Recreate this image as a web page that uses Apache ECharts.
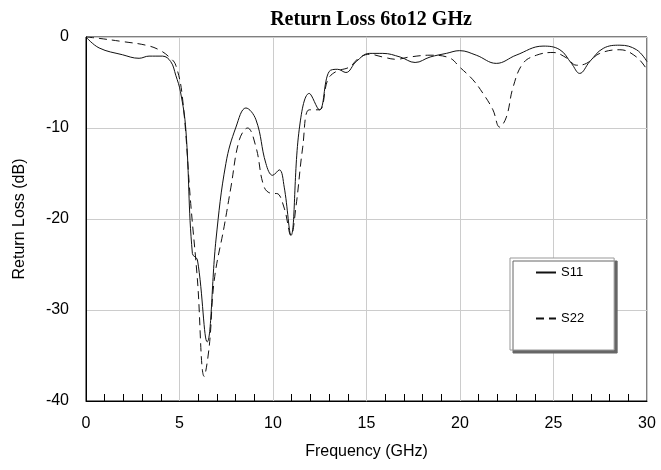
<!DOCTYPE html>
<html>
<head>
<meta charset="utf-8">
<script src="https://cdn.jsdelivr.net/npm/echarts@6/dist/echarts.min.js"></script>
<style>
  html, body { margin: 0; padding: 0; background: #fff; }
  #chart { width: 661px; height: 470px; }
</style>
</head>
<body>
<div id="chart"></div>
<script>
  // frequency in GHz, return loss in dB
  const s11Freq = [0, 0.7, 1.95, 2.84, 3.37, 4.09, 4.53, 4.8, 5.05, 5.34, 5.69, 5.96, 6.48, 6.95, 7.48, 8.02, 8.55, 9.09, 9.62, 9.98, 10.34, 10.6, 10.96, 11.4, 11.94, 12.48, 13.0, 13.46, 13.9, 14.45, 15.16, 15.87, 16.8, 17.6, 18.4, 19.27, 19.98, 20.87, 21.94, 23.0, 24.44, 25.34, 25.96, 26.4, 26.94, 27.66, 28.55, 29.44, 30];
  const s11Loss = [0, -1.2, -1.95, -2.34, -2.1, -2.1, -2.7, -4.2, -6.0, -10.2, -23.8, -24.5, -33.5, -22.3, -13.9, -9.9, -7.8, -9.1, -13.9, -15.2, -14.6, -16.5, -21.8, -10.2, -6.2, -8.0, -3.8, -3.55, -3.9, -2.7, -1.8, -1.8, -2.2, -2.8, -2.2, -1.8, -1.5, -2.0, -2.9, -2.0, -1.0, -1.4, -2.9, -4.0, -2.7, -1.25, -0.9, -1.4, -2.7];

  const s22Freq = [0, 0.7, 1.95, 3.2, 3.9, 4.45, 4.8, 5.16, 5.6, 5.96, 6.32, 6.59, 6.86, 7.39, 7.75, 8.2, 8.64, 9.09, 9.53, 9.98, 10.2, 10.6, 10.96, 11.23, 11.59, 11.94, 12.48, 12.93, 13.37, 14.09, 14.6, 15.16, 15.87, 16.6, 17.3, 18.4, 19.44, 19.98, 20.69, 21.23, 21.76, 22.12, 22.48, 22.84, 23.37, 24.09, 24.98, 25.7, 26.23, 26.76, 27.48, 28.55, 29.44, 30];
  const s22Loss = [0, -0.15, -0.5, -0.9, -1.4, -2.2, -3.1, -6.7, -18.3, -26.7, -37.3, -34, -26.7, -20.8, -16.5, -11.3, -10.0, -12.1, -16.5, -17.2, -17.2, -18.8, -21.8, -18.6, -12.1, -8.0, -8.0, -4.7, -3.8, -3.3, -2.3, -1.9, -2.2, -2.45, -2.2, -2.0, -2.3, -3.3, -4.7, -6.2, -8.0, -9.9, -8.8, -5.5, -2.9, -2.0, -1.7, -2.3, -3.1, -2.9, -1.8, -1.4, -2.2, -3.6];

  const pairs = (xs, ys) => xs.map((x, i) => [x, ys[i]]);

  let chart = echarts.init(document.getElementById('chart'));
  let option = {
    backgroundColor: '#fff',
    animation: false,
    title: {
      text: 'Return Loss 6to12 GHz',
      left: 366,
      textAlign: 'center',
      top: 5,
      textStyle: {
        fontFamily: 'Liberation Serif',
        fontWeight: 'bold',
        fontSize: 20,
        color: '#000'
      }
    },
    grid: {
      left: 86,
      right: 14,
      top: 37,
      bottom: 69,
      show: true,
      borderColor: '#000',
      borderWidth: 1,
      backgroundColor: '#fff'
    },
    legend: {
      left: 510,
      top: 258,
      orient: 'vertical',
      itemWidth: 20,
      itemHeight: 14,
      itemGap: 33,
      padding: [8, 30, 25, 25],
      backgroundColor: '#fff',
      borderColor: '#999',
      borderWidth: 1,
      shadowColor: '#666',
      shadowBlur: 0,
      shadowOffsetX: 3,
      shadowOffsetY: 3,
      itemStyle: { color: 'transparent', borderWidth: 0, opacity: 0 },
      textStyle: { fontFamily: 'Liberation Sans', fontSize: 13, color: '#000' },
      data: ['S11', 'S22']
    },
    xAxis: {
      type: 'value',
      min: 0,
      max: 30,
      interval: 5,
      name: 'Frequency (GHz)',
      nameLocation: 'middle',
      nameGap: 43,
      nameTextStyle: { fontFamily: 'Liberation Sans', fontSize: 16, color: '#000' },
      axisLine: { onZero: false, lineStyle: { color: '#000' } },
      axisTick: { show: false, inside: true },
      minorTick: { show: true, splitNumber: 5, length: 7, lineStyle: { color: '#000' } },
      axisLabel: { fontFamily: 'Liberation Sans', fontSize: 16, color: '#000', margin: 15 },
      splitLine: { lineStyle: { color: '#cccccc' } }
    },
    yAxis: {
      type: 'value',
      min: -40,
      max: 0,
      interval: 10,
      name: 'Return Loss (dB)',
      nameLocation: 'middle',
      nameGap: 58,
      nameTextStyle: { fontFamily: 'Liberation Sans', fontSize: 16, color: '#000' },
      axisLine: { lineStyle: { color: '#000' } },
      axisTick: { show: false },
      axisLabel: { fontFamily: 'Liberation Sans', fontSize: 16, color: '#000', margin: 17 },
      splitLine: { lineStyle: { color: '#cccccc' } }
    },
    series: [
      {
        name: 'S11',
        type: 'line',
        data: pairs(s11Freq, s11Loss),
        smooth: 0.4,
        symbol: 'none',
        lineStyle: { color: '#111', width: 1 },
        itemStyle: { color: '#111' }
      },
      {
        name: 'S22',
        type: 'line',
        data: pairs(s22Freq, s22Loss),
        smooth: 0.4,
        symbol: 'none',
        lineStyle: { color: '#111', width: 1, type: [8, 5] },
        itemStyle: { color: '#111' }
      }
    ]
  };
  chart.setOption(option);
</script>
</body>
</html>
